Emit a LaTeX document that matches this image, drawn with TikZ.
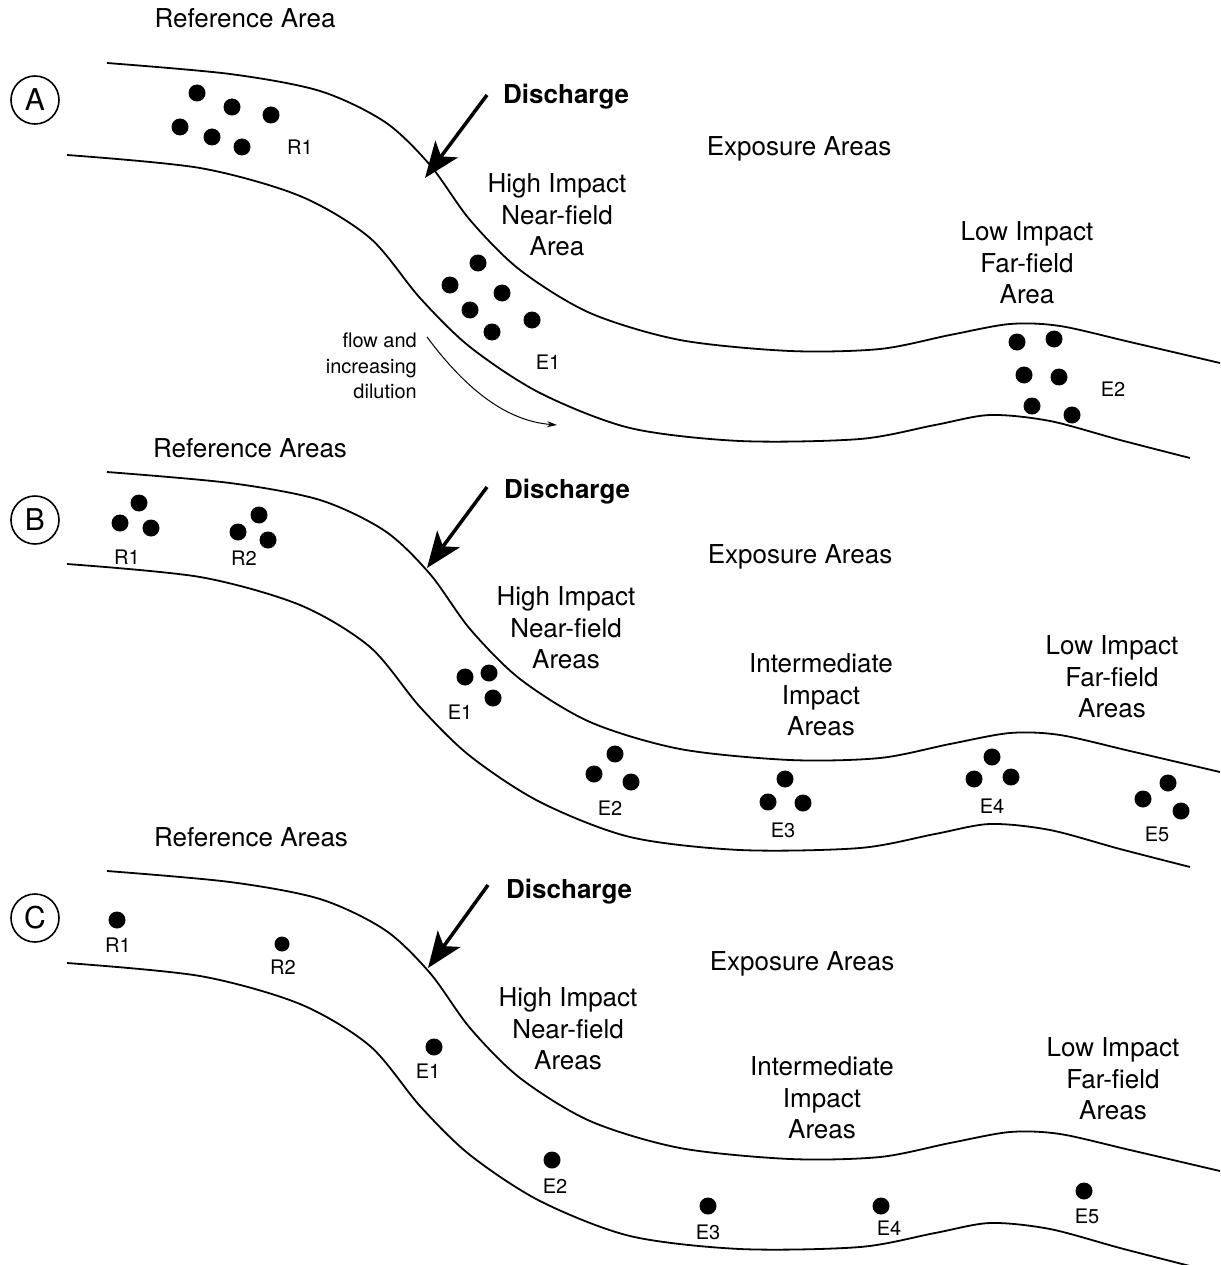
\documentclass[tikz,border=0pt]{standalone}
\usepackage{fontspec}
\setmainfont{TeX Gyre Heros}
\usetikzlibrary{arrows.meta}
\newcommand\riverbanks{%
 \draw[bank] plot[smooth,tension=0.5] coordinates {(107,63) (230,74) (320,91) (385,122) (430,165) (470,220) (520,270) (590,313) (680,340) (790,351) (880,349) (950,335) (1010,324) (1060,326) (1130,342) (1220,363)};
 \draw[bank] plot[smooth,tension=0.5] coordinates {(67,155) (200,168) (300,196) (370,238) (420,298) (470,347) (540,393) (630,428) (740,441) (860,439) (935,425) (990,415) (1050,421) (1120,440) (1190,458)};
}
\begin{document}
\begin{tikzpicture}[x=1pt,y=-1pt,
 bank/.style={line width=1.8pt},
 dot/.style={circle,fill=black,inner sep=0pt,minimum size=17pt},
 lbl/.style={font=\fontsize{26}{31.5}\selectfont,align=center,inner sep=0pt},
 small/.style={font=\fontsize{20}{25.5}\selectfont,inner sep=0pt},
 bold/.style={font=\fontsize{26}{31.5}\selectfont\bfseries,inner sep=0pt},
 panel/.style={circle,draw,line width=1.6pt,minimum size=48pt,inner sep=0pt,font=\fontsize{30}{30}\selectfont},
 discharge/.style={line width=3.5pt,-{Stealth[length=36pt,width=28pt,inset=9pt]}},
 flow/.style={line width=1pt,-{Stealth[length=10pt,width=6pt]}}
]
\useasboundingbox (0,0) rectangle (1220,1265);
% ---------------- Panel A ----------------
\riverbanks
\node[panel] (pA) at (35,100) {A};
\node[lbl] (refA) at (245,18) {Reference Area};
\node[bold,anchor=west] (disA) at (503,97) {Discharge};
\node[lbl] (expA) at (799,149) {Exposure Areas};
\node[lbl] (hiA) at (557,215) {High Impact\\Near-field\\Area};
\node[lbl] (loA) at (1027,263) {Low Impact\\Far-field\\Area};
\node[small,align=right,anchor=east] (flowA) at (417,366) {flow and\\increasing\\dilution};
\coordinate (dA0) at (487,95);
\coordinate (dA1) at (425,178);
\draw[discharge] (dA0) -- (dA1);
\coordinate (fA0) at (427,337);
\coordinate (fA1) at (557,425);
\draw[flow] (fA0) .. controls (468,392) and (508,421) .. (fA1);
\node[dot] (ar1) at (197,93) {};
\node[dot] (ar2) at (232,107) {};
\node[dot] (ar3) at (271,115) {};
\node[dot] (ar4) at (180,127) {};
\node[dot] (ar5) at (212,137) {};
\node[dot] (ar6) at (242,147) {};
\node[small] (lAR1) at (300,147) {R1};
\node[dot] (ae1) at (478,263) {};
\node[dot] (ae2) at (450,285) {};
\node[dot] (ae3) at (502,293) {};
\node[dot] (ae4) at (470,310) {};
\node[dot] (ae5) at (532,320) {};
\node[dot] (ae6) at (492,332) {};
\node[small] (lAE1) at (548,362) {E1};
\node[dot] (af1) at (1017,342) {};
\node[dot] (af2) at (1054,339) {};
\node[dot] (af3) at (1024,375) {};
\node[dot] (af4) at (1059,377) {};
\node[dot] (af5) at (1032,406) {};
\node[dot] (af6) at (1072,415) {};
\node[small] (lAE2) at (1113,389) {E2};
% ---------------- Panel B ----------------
\begin{scope}[yshift=-409pt]
\riverbanks
\end{scope}
\node[panel] (pB) at (35,520) {B};
\node[lbl] (refB) at (250,448) {Reference Areas};
\node[bold,anchor=west] (disB) at (504,492) {Discharge};
\node[lbl] (expB) at (800,557) {Exposure Areas};
\node[lbl] (hiB) at (566,628) {High Impact\\Near-field\\Areas};
\node[lbl] (imB) at (821,695) {Intermediate\\Impact\\Areas};
\node[lbl] (loB) at (1112,677) {Low Impact\\Far-field\\Areas};
\coordinate (dB0) at (487,487);
\coordinate (dB1) at (427,568);
\draw[discharge] (dB0) -- (dB1);
\node[dot] (br1) at (120,523) {};
\node[dot] (br2) at (139,503) {};
\node[dot] (br3) at (151,528) {};
\node[small] (lBR1) at (127,557) {R1};
\node[dot] (br4) at (238,532) {};
\node[dot] (br5) at (259,515) {};
\node[dot] (br6) at (268,540) {};
\node[small] (lBR2) at (244,558) {R2};
\node[dot] (be1) at (465,677) {};
\node[dot] (be2) at (489,673) {};
\node[dot] (be3) at (493,698) {};
\node[small] (lBE1) at (460,712) {E1};
\node[dot] (be4) at (615,754) {};
\node[dot] (be5) at (594,774) {};
\node[dot] (be6) at (631,782) {};
\node[small] (lBE2) at (610,808) {E2};
\node[dot] (be7) at (785,779) {};
\node[dot] (be8) at (768,802) {};
\node[dot] (be9) at (803,803) {};
\node[small] (lBE3) at (783,830) {E3};
\node[dot] (be10) at (992,757) {};
\node[dot] (be11) at (974,779) {};
\node[dot] (be12) at (1011,777) {};
\node[small] (lBE4) at (992,806) {E4};
\node[dot] (be13) at (1168,783) {};
\node[dot] (be14) at (1143,799) {};
\node[dot] (be15) at (1181,811) {};
\node[small] (lBE5) at (1157,834) {E5};
% ---------------- Panel C ----------------
\begin{scope}[yshift=-808pt]
\riverbanks
\end{scope}
\node[panel] (pC) at (35,918) {C};
\node[lbl] (refC) at (251,837) {Reference Areas};
\node[bold,anchor=west] (disC) at (506,892) {Discharge};
\node[lbl] (expC) at (802,964) {Exposure Areas};
\node[lbl] (hiC) at (568,1029) {High Impact\\Near-field\\Areas};
\node[lbl] (imC) at (822,1098) {Intermediate\\Impact\\Areas};
\node[lbl] (loC) at (1113,1079) {Low Impact\\Far-field\\Areas};
\coordinate (dC0) at (488,885);
\coordinate (dC1) at (428,968);
\draw[discharge] (dC0) -- (dC1);
\node[dot] (cr1) at (117,920) {};
\node[small] (lCR1) at (118,945) {R1};
\node[dot,minimum size=15pt] (cr2) at (282,944) {};
\node[small] (lCR2) at (283,967) {R2};
\node[dot] (ce1) at (434,1047) {};
\node[small] (lCE1) at (428,1071) {E1};
\node[dot] (ce2) at (552,1160) {};
\node[small] (lCE2) at (555,1186) {E2};
\node[dot] (ce3) at (708,1206) {};
\node[small] (lCE3) at (708,1232) {E3};
\node[dot] (ce4) at (881,1206) {};
\node[small] (lCE4) at (889,1228) {E4};
\node[dot] (ce5) at (1084,1191) {};
\node[small] (lCE5) at (1087,1216) {E5};
\end{tikzpicture}
\end{document}
